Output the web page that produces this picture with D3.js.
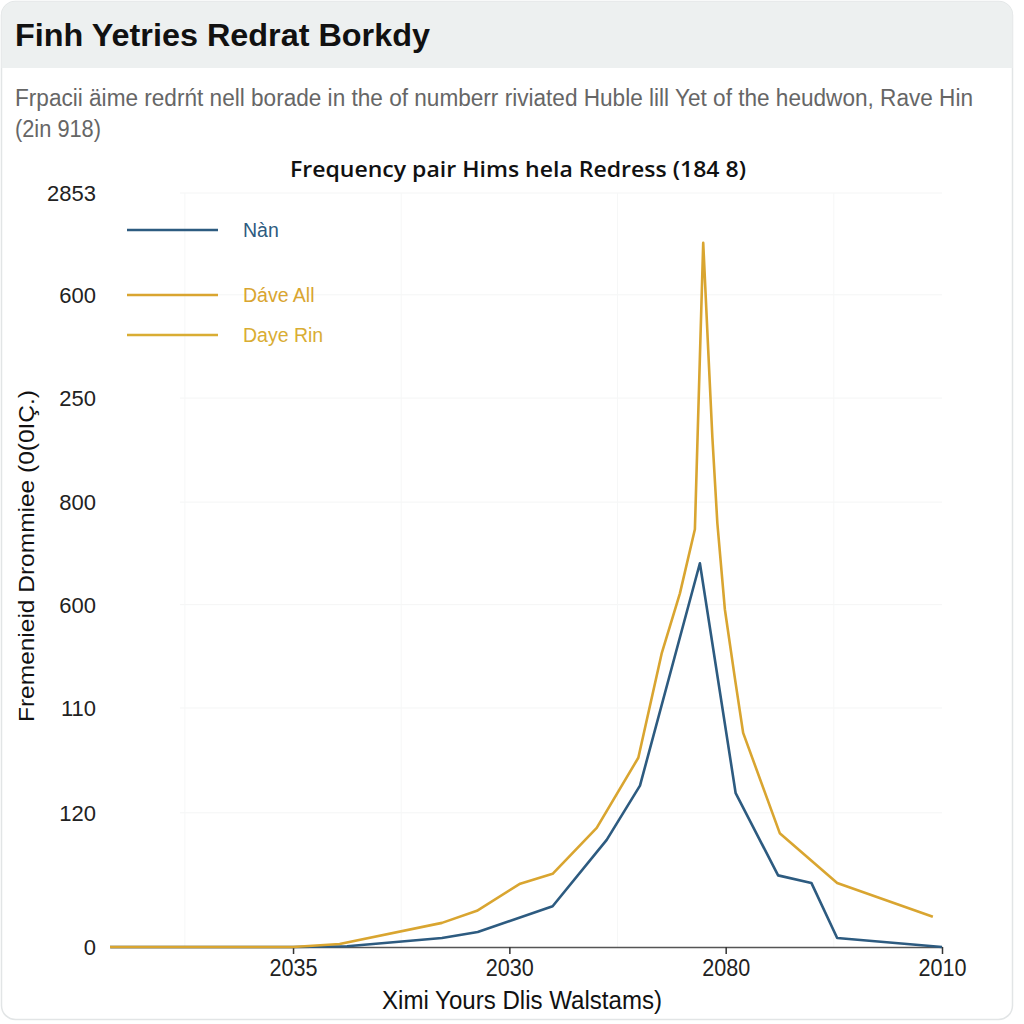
<!DOCTYPE html>
<html>
<head>
<meta charset="utf-8">
<script src="https://cdn.jsdelivr.net/npm/d3@7"></script>
<style>
  html, body { margin: 0; padding: 0; background: #ffffff; }
  svg { display: block; }
</style>
</head>
<body>
<svg id="chart" width="1024" height="1024"></svg>
<script>
// ---------- data ----------
const titleText = "Finh Yetries Redrat Borkdy";
const subtitleLines = [
  "Frpacii äime redrńt nell borade in the of numberr riviated Huble lill Yet of the heudwon, Rave Hin",
  "(2in 918)"
];
const chartTitle = "Frequency pair Hims hela Redress (184 8)";
const xAxisTitle = "Ximi Yours Dlis Walstams)";
const yAxisTitle = "Fremenieid Drommiee (0(0IÇ.)";

const xTickValues = [22, 48, 74, 100];
const xTickLabels = ["2035", "2030", "2080", "2010"];
const yTickValues = [0, 17.8, 31.7, 45.4, 59.0, 72.8, 86.5, 100];
const yTickLabels = ["0", "120", "110", "600", "800", "250", "600", "2853"];

const seriesNames = ["Nàn", "Dáve All", "Daye Rin"];
const seriesColors = ["#2d5b80", "#d9a530", "#d9ad33"];

const nanX = [0, 22, 28.5, 39.9, 44.2, 53.2, 59.7, 63.7, 70.9, 75.2, 80.3, 84.3, 87.4, 100];
const nanY = [0, 0, 0.1, 1.2, 2.0, 5.4, 14.2, 21.4, 50.9, 20.4, 9.5, 8.5, 1.2, 0];

const daveX = [0, 22, 27.6, 39.9, 44.1, 49.3, 53.2, 58.5, 63.5, 66.3, 68.5, 70.3, 71.3, 71.9, 72.4, 73.0, 73.9, 75.1, 76.1, 80.5, 87.4, 98.9];
const daveY = [0, 0, 0.4, 3.2, 4.8, 8.4, 9.7, 15.8, 25.1, 38.9, 46.9, 55.4, 93.4, 79.2, 67.6, 56.2, 44.8, 35.7, 28.4, 15.1, 8.5, 4.0];

// ---------- layout ----------
const svg = d3.select("#chart");
const W = 1024, H = 1024;
const plot = { left: 110, right: 942, top: 193, bottom: 947 };

// card
svg.append("rect").attr("x", 1.5).attr("y", 1.5).attr("width", 1011).attr("height", 1018)
  .attr("rx", 14).attr("fill", "#ffffff").attr("stroke", "#e2e5e6").attr("stroke-width", 1.5);
const clip = svg.append("defs").append("clipPath").attr("id", "cardclip");
clip.append("rect").attr("x", 1.5).attr("y", 1.5).attr("width", 1011).attr("height", 1018).attr("rx", 14);
svg.append("rect").attr("x", 0).attr("y", 0).attr("width", W).attr("height", 68)
  .attr("fill", "#edf0f0").attr("clip-path", "url(#cardclip)");

// title
svg.append("text").attr("x", 15).attr("y", 46)
  .attr("font-family", "Liberation Sans, Arial, sans-serif").attr("font-weight", "bold")
  .attr("font-size", 32).attr("fill", "#111")
  .attr("textLength", 415).attr("lengthAdjust", "spacingAndGlyphs")
  .text(titleText);

// subtitle (vertically stretched to mimic a condensed face)
svg.append("text").attr("transform", "translate(15,106) scale(1,1.12)")
  .attr("font-family", "Liberation Sans, Arial, sans-serif")
  .attr("font-size", 22).attr("fill", "#666")
  .attr("textLength", 958).attr("lengthAdjust", "spacingAndGlyphs")
  .text(subtitleLines[0]);
svg.append("text").attr("transform", "translate(15,137) scale(1,1.12)")
  .attr("font-family", "Liberation Sans, Arial, sans-serif")
  .attr("font-size", 22).attr("fill", "#666")
  .attr("textLength", 86).attr("lengthAdjust", "spacingAndGlyphs")
  .text(subtitleLines[1]);

// chart title
svg.append("text").attr("x", 518).attr("y", 177).attr("text-anchor", "middle")
  .attr("font-family", "Open Sans, sans-serif").attr("font-weight", 600)
  .attr("font-size", 22).attr("fill", "#111")
  .attr("textLength", 456).attr("lengthAdjust", "spacingAndGlyphs")
  .text(chartTitle);

// scales
const x = d3.scaleLinear().domain([0, 100]).range([plot.left, plot.right]);
const y = d3.scaleLinear().domain([0, 100]).range([plot.bottom, plot.top]);

// faint grid
const grid = svg.append("g");
grid.selectAll("line.h").data(yTickValues.slice(1)).join("line")
  .attr("x1", 180).attr("x2", plot.right).attr("y1", d => y(d)).attr("y2", d => y(d))
  .attr("stroke", "#f4f5f5").attr("stroke-width", 1);
grid.selectAll("line.v").data([9, 35, 61, 87]).join("line")
  .attr("x1", d => x(d)).attr("x2", d => x(d)).attr("y1", plot.top).attr("y2", plot.bottom)
  .attr("stroke", "#f6f7f7").attr("stroke-width", 1);

// y axis (labels only)
const yAxis = d3.axisLeft(y).tickValues(yTickValues)
  .tickFormat((d, i) => yTickLabels[i]).tickSize(0).tickPadding(0);
const gy = svg.append("g").attr("transform", `translate(96,0)`).call(yAxis);
gy.select(".domain").remove();
gy.selectAll("text").attr("font-family", "Liberation Sans, Arial, sans-serif")
  .attr("font-size", 22).attr("fill", "#222").attr("dy", "0.35em");

// x axis
const xAxis = d3.axisBottom(x).tickValues(xTickValues)
  .tickFormat((d, i) => xTickLabels[i]).tickSizeInner(7).tickSizeOuter(0).tickPadding(6);
const gx = svg.append("g").attr("transform", `translate(0,${plot.bottom})`).call(xAxis);
gx.select(".domain").attr("stroke", "#555").attr("stroke-width", 1.5);
gx.selectAll(".tick line").attr("stroke", "#333").attr("stroke-width", 1.5);
gx.selectAll("text").attr("font-family", "Liberation Sans, Arial, sans-serif")
  .attr("font-size", 23).attr("fill", "#222")
  .attr("textLength", 48).attr("lengthAdjust", "spacingAndGlyphs");

// axis titles
svg.append("text").attr("x", 522).attr("y", 1009).attr("text-anchor", "middle")
  .attr("font-family", "Liberation Sans, Arial, sans-serif")
  .attr("font-size", 25).attr("fill", "#111")
  .attr("textLength", 280).attr("lengthAdjust", "spacingAndGlyphs")
  .text(xAxisTitle);
svg.append("text").attr("transform", "translate(34,556) rotate(-90)").attr("text-anchor", "middle")
  .attr("font-family", "Liberation Sans, Arial, sans-serif")
  .attr("font-size", 22).attr("fill", "#111")
  .attr("textLength", 332).attr("lengthAdjust", "spacingAndGlyphs")
  .text(yAxisTitle);

// lines
const line = d3.line().x(d => x(d[0])).y(d => y(d[1]));
const nanData = nanX.map((v, i) => [v, nanY[i]]);
const daveData = daveX.map((v, i) => [v, daveY[i]]);

svg.append("path").datum(nanData).attr("d", line)
  .attr("fill", "none").attr("stroke", seriesColors[0]).attr("stroke-width", 2.6)
  .attr("stroke-linejoin", "round");
svg.append("path").datum(daveData).attr("d", line)
  .attr("fill", "none").attr("stroke", seriesColors[1]).attr("stroke-width", 2.6)
  .attr("stroke-linejoin", "round");

// legend
const legendY = [230, 295, 335];
const lg = svg.append("g");
seriesNames.forEach((name, i) => {
  lg.append("line").attr("x1", 127).attr("x2", 218).attr("y1", legendY[i]).attr("y2", legendY[i])
    .attr("stroke", seriesColors[i]).attr("stroke-width", 2.6);
  lg.append("text").attr("x", 243).attr("y", legendY[i]).attr("dy", "0.35em")
    .attr("font-family", "Liberation Sans, Arial, sans-serif")
    .attr("font-size", 19.5).attr("fill", seriesColors[i])
    .text(name);
});
</script>
</body>
</html>
